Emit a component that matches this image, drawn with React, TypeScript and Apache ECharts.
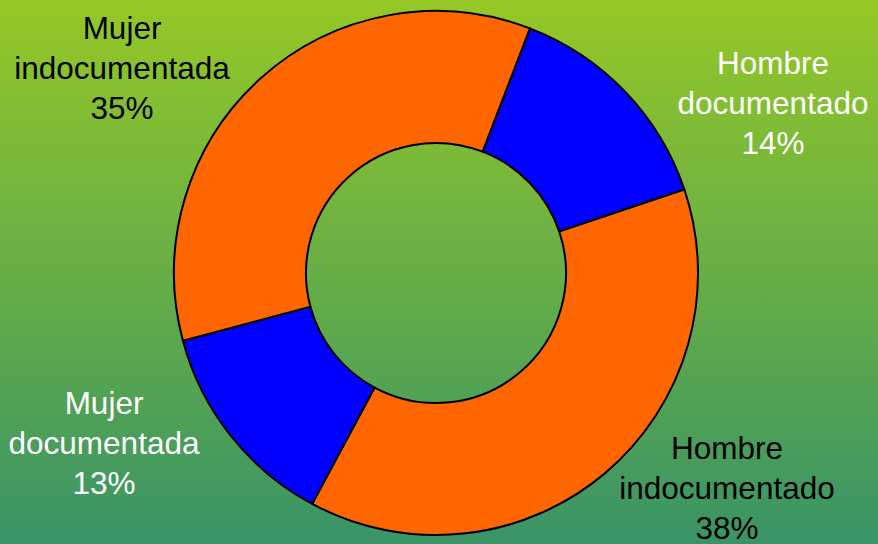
import React, { useEffect, useRef } from "react";
import * as echarts from "echarts";

const categories = [
  "Hombre documentado",
  "Hombre indocumentado",
  "Mujer documentada",
  "Mujer indocumentada",
];
const values = [14, 38, 13, 35];
const sliceColors = ["#0000FF", "#FF6600", "#0000FF", "#FF6600"];
const labelColors = ["#FFFFFF", "#000000", "#FFFFFF", "#000000"];
const labelPos = [
  [773, 103],
  [727, 488],
  [104, 443],
  [122, 68],
];

export default function App() {
  const ref = useRef<HTMLDivElement>(null);
  useEffect(() => {
    document.body.style.margin = "0";
    const chart = echarts.init(ref.current!, undefined, { renderer: "svg" });
    chart.setOption({
      animation: false,
      backgroundColor: new echarts.graphic.LinearGradient(0, 0, 0, 1, [
        { offset: 0, color: "#95C826" },
        { offset: 1, color: "#399466" },
      ]),
      series: [
        {
          type: "pie",
          center: [436, 273],
          radius: [130, 262],
          startAngle: 69,
          clockwise: true,
          avoidLabelOverlap: false,
          itemStyle: { borderColor: "#000000", borderWidth: 2 },
          label: {
            show: true,
            position: "outside",
            fontFamily: "Liberation Sans, Arial, sans-serif",
            fontSize: 31.5,
            lineHeight: 40,
            align: "center",
            formatter: (p: any) => p.name.replace(" ", "\n") + "\n" + p.value + "%",
          },
          labelLine: { show: false },
          labelLayout: (p: any) => ({
            x: labelPos[p.dataIndex][0],
            y: labelPos[p.dataIndex][1],
            align: "center",
            verticalAlign: "middle",
          }),
          emphasis: { disabled: true },
          data: categories.map((name, i) => ({
            name,
            value: values[i],
            itemStyle: { color: sliceColors[i] },
            label: { color: labelColors[i] },
          })),
        },
      ],
    });
    return () => chart.dispose();
  }, []);
  return <div ref={ref} style={{ width: 878, height: 544 }} />;
}
